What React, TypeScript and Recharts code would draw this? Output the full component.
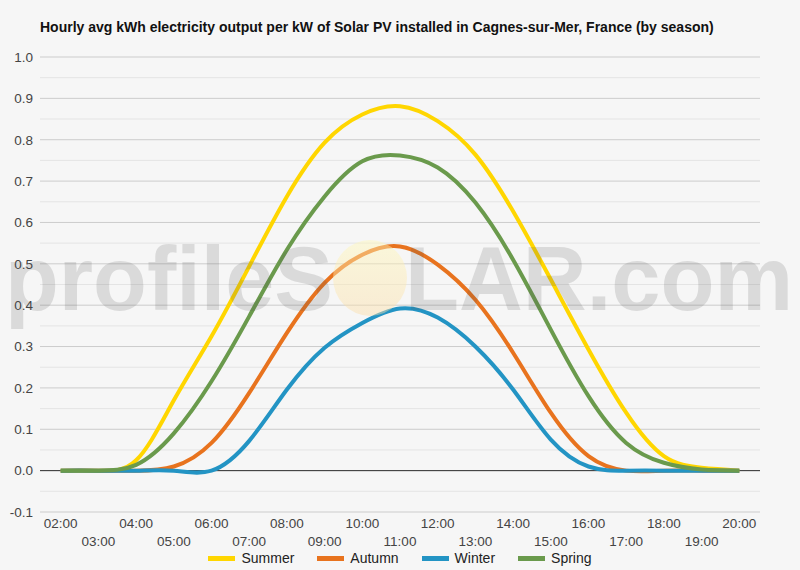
import React from 'react';
import {
  LineChart,
  Line,
  XAxis,
  YAxis,
  CartesianGrid,
  ReferenceLine,
  Legend,
} from 'recharts';

// hourly values, 02:00 .. 20:00
const hours = [2, 3, 4, 5, 6, 7, 8, 9, 10, 11, 12, 13, 14, 15, 16, 17, 18, 19, 20];
const summer = [0, 0, 0.025, 0.17, 0.325, 0.494, 0.663, 0.793, 0.861, 0.881, 0.845, 0.764, 0.627, 0.462, 0.293, 0.14, 0.035, 0.007, 0];
const autumn = [0, 0, 0, 0.01, 0.067, 0.188, 0.333, 0.454, 0.522, 0.542, 0.498, 0.413, 0.285, 0.14, 0.035, 0, 0, 0, 0];
const winter = [0, 0, 0, 0, 0, 0.072, 0.196, 0.297, 0.357, 0.392, 0.37, 0.3, 0.196, 0.075, 0.01, 0, 0, 0, 0];
const spring = [0, 0, 0.014, 0.09, 0.216, 0.373, 0.534, 0.663, 0.748, 0.762, 0.733, 0.648, 0.51, 0.341, 0.18, 0.067, 0.019, 0.003, 0];

const yTicks = [-0.1, 0, 0.1, 0.2, 0.3, 0.4, 0.5, 0.6, 0.7, 0.8, 0.9, 1.0];
const yMinor = [-0.05, 0.05, 0.15, 0.25, 0.35, 0.45, 0.55, 0.65, 0.75, 0.85, 0.95];

const series = [
  { key: 'Summer', color: '#FFD600', values: summer },
  { key: 'Autumn', color: '#E8731E', values: autumn },
  { key: 'Winter', color: '#2394C4', values: winter },
  { key: 'Spring', color: '#6A9A4C', values: spring },
];

const data = hours.map((h, i) => {
  const row: Record<string, number> = { hour: h };
  series.forEach((s) => {
    row[s.key] = s.values[i];
  });
  return row;
});

const fmtHour = (h: number) => `${String(h).padStart(2, '0')}:00`;
const FONT = 'Arial, "Liberation Sans", sans-serif';

const HourTick = (props: any) => {
  const { x, payload } = props;
  const odd = payload.value % 2 === 1;
  return (
    <text
      x={x}
      y={odd ? 546 : 528}
      textAnchor="middle"
      fontSize={13.5}
      fontFamily={FONT}
      fill="#444"
    >
      {fmtHour(payload.value)}
    </text>
  );
};

const LegendContent = () => (
  <div
    style={{
      display: 'flex',
      justifyContent: 'center',
      gap: 23,
      fontFamily: FONT,
      fontSize: 14,
      color: '#222',
      paddingLeft: 40,
    }}
  >
    {series.map((s) => (
      <div key={s.key} style={{ display: 'flex', alignItems: 'center' }}>
        <span
          style={{
            display: 'inline-block',
            width: 27,
            height: 5,
            background: s.color,
            marginRight: 6,
          }}
        />
        {s.key}
      </div>
    ))}
  </div>
);

const Watermark = () => (
  <svg
    width={800}
    height={570}
    style={{ position: 'absolute', left: 0, top: 0, pointerEvents: 'none' }}
  >
    <defs>
      <linearGradient id="sunGrad" x1="0" y1="0" x2="0" y2="1">
        <stop offset="0%" stopColor="#FFF8B8" />
        <stop offset="100%" stopColor="#FBDDA8" />
      </linearGradient>
    </defs>
    <g opacity={0.17} fontFamily={FONT} fontWeight="bold" fontSize={91} fill="#555">
      <text x={5} y={310} textLength={328} lengthAdjust="spacingAndGlyphs">
        profileS
      </text>
      <text x={405} y={310} textLength={388} lengthAdjust="spacingAndGlyphs">
        LAR.com
      </text>
    </g>
    <ellipse cx={370} cy={278} rx={37} ry={38} fill="url(#sunGrad)" opacity={0.45} />
  </svg>
);

const App: React.FC = () => {
  return (
    <div
      style={{
        position: 'absolute',
        left: 0,
        top: 0,
        width: 800,
        height: 570,
        background: '#F6F6F6',
        fontFamily: FONT,
      }}
    >
      <div
        style={{
          position: 'absolute',
          left: 40,
          top: 19,
          fontSize: 14,
          fontWeight: 'bold',
          color: '#111',
          whiteSpace: 'nowrap',
        }}
      >
        Hourly avg kWh electricity output per kW of Solar PV installed in Cagnes-sur-Mer, France (by season)
      </div>
      <LineChart
        width={800}
        height={570}
        data={data}
        margin={{ top: 57, right: 40, bottom: 0, left: 0 }}
      >
        <CartesianGrid vertical={false} stroke="#CCCCCC" strokeWidth={1} />
        {yMinor.map((v) => (
          <ReferenceLine key={v} y={v} stroke="#E4E4E4" strokeWidth={1} />
        ))}
        <XAxis
          type="number"
          dataKey="hour"
          domain={[1.45, 20.55]}
          ticks={hours}
          interval={0}
          axisLine={false}
          tickLine={false}
          height={38}
          tick={<HourTick />}
        />
        <YAxis
          type="number"
          domain={[-0.1, 1.0]}
          ticks={yTicks}
          interval={0}
          axisLine={false}
          tickLine={false}
          tickSize={0}
          tickMargin={7}
          width={40}
          tickFormatter={(v: number) => v.toFixed(1)}
          tick={{ fontSize: 13.5, fill: '#444', fontFamily: FONT }}
        />
        <ReferenceLine y={0} stroke="#333333" strokeWidth={1} />
        <Legend verticalAlign="bottom" height={20} content={<LegendContent />} />
        {series.map((s) => (
          <Line
            key={s.key}
            type="natural"
            dataKey={s.key}
            stroke={s.color}
            strokeWidth={4}
            dot={false}
            activeDot={false}
            isAnimationActive={false}
          />
        ))}
      </LineChart>
      <Watermark />
    </div>
  );
};

export default App;
